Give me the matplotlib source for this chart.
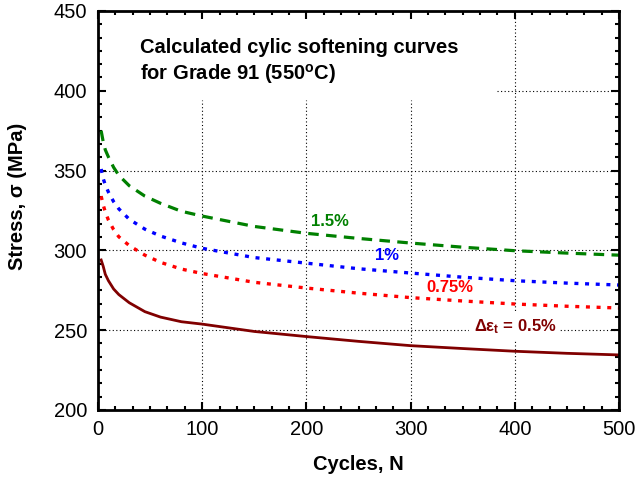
import matplotlib
matplotlib.use("Agg")
import matplotlib.pyplot as plt
from matplotlib.ticker import MultipleLocator

plt.rcParams['font.family'] = ['Liberation Sans', 'DejaVu Sans']
plt.rcParams['mathtext.fontset'] = 'custom'
plt.rcParams['mathtext.rm'] = 'Liberation Sans'
plt.rcParams['mathtext.bf'] = 'Liberation Sans:bold'
plt.rcParams['mathtext.it'] = 'Liberation Sans:italic'

# Cycle counts and stress amplitudes (MPa) for each strain range
cycles = [3, 5, 7, 10, 15, 20, 30, 45, 60, 80, 100, 150, 200, 250, 300, 350, 400, 450, 500]
stress_15 = [375, 368, 363, 358.5, 352, 347, 340.5, 334, 329.5, 324.5, 321.5, 315, 310.7, 307.5,
             304.6, 302, 299.8, 298.3, 297]
stress_10 = [351, 345, 341, 336.5, 330.5, 326, 319.5, 313.3, 309, 304.7, 301.3, 295.5, 292, 288.5,
             285.8, 283.2, 281, 279.5, 278.3]
stress_075 = [334, 328.5, 324, 319, 313, 308.5, 303, 297, 292.5, 288.3, 285.5, 280, 276.4, 273.2,
              270.4, 268.3, 266.4, 265, 263.9]
stress_05 = [294, 290, 285, 281, 275.8, 272.3, 267.2, 261.6, 258.2, 255.3, 253.8, 249.2, 246, 243,
             240.3, 238.5, 236.8, 235.5, 234.5]

fig = plt.figure(figsize=(6.36, 4.78), dpi=100)
ax = fig.add_axes([0.1541, 0.1423, 0.8192, 0.8347])

ax.set_xlim(0, 500)
ax.set_ylim(200, 450)

# Dotted grid, left open behind the title block
grid_kw = dict(color='black', linewidth=0.8, linestyle=(0, (1, 2.2)), zorder=1)
for xv in (100, 200, 300):
    ax.plot([xv, xv], [200, 394], **grid_kw)
ax.plot([400, 400], [200, 450], **grid_kw)
for yv in (250, 300, 350):
    ax.plot([0, 500], [yv, yv], **grid_kw)
ax.plot([383, 500], [400, 400], **grid_kw)

ax.plot(cycles, stress_15, color='#008000', linewidth=2.3, linestyle=(0, (3.3, 2.3)), zorder=3)
ax.plot(cycles, stress_10, color='#0000ff', linewidth=2.4, linestyle=(0, (1.2, 2.0)), zorder=3)
ax.plot(cycles, stress_075, color='#ff0000', linewidth=2.4, linestyle=(0, (1.2, 2.0)), zorder=3)
ax.plot(cycles, stress_05, color='#800000', linewidth=2.0, linestyle='-', zorder=3)

lab_kw = dict(fontsize=12, fontweight='bold', ha='center', va='center', zorder=4)
ax.text(223, 318, '1.5%', color='#008000', **lab_kw)
ax.text(277, 296.5, '1%', color='#0000ff', **lab_kw)
ax.text(338, 276.5, '0.75%', color='#ff0000', **lab_kw)
ax.text(400, 252, r'Δε$_\mathbf{t}$ = 0.5%', color='#800000',
        bbox=dict(facecolor='white', edgecolor='none', pad=3), **lab_kw)

ax.text(40, 418, 'Calculated cylic softening curves\nfor Grade 91 (550$^\\mathbf{o}$C)',
        fontsize=14.5, fontweight='bold', ha='left', va='center', linespacing=1.3, zorder=4)

ax.xaxis.set_major_locator(MultipleLocator(100))
ax.xaxis.set_minor_locator(MultipleLocator(100 / 6))
ax.yaxis.set_major_locator(MultipleLocator(50))
ax.yaxis.set_minor_locator(MultipleLocator(50 / 6))
ax.tick_params(which='both', direction='in', top=True, right=True, width=1.5)
ax.tick_params(which='major', length=6, labelsize=14.5)
ax.tick_params(axis='x', which='major', pad=7)
ax.tick_params(axis='y', which='major', pad=8)
ax.tick_params(which='minor', length=3)
for sp in ax.spines.values():
    sp.set_linewidth(2)
    sp.set_zorder(5)

ax.set_xlabel('Cycles, N', fontsize=14.5, fontweight='bold')
ax.set_ylabel('Stress, σ (MPa)', fontsize=14.5, fontweight='bold')
ax.xaxis.set_label_coords(0.499, -0.113)
ax.yaxis.set_label_coords(-0.136, 0.536)

fig.savefig('out.png', dpi=100)
